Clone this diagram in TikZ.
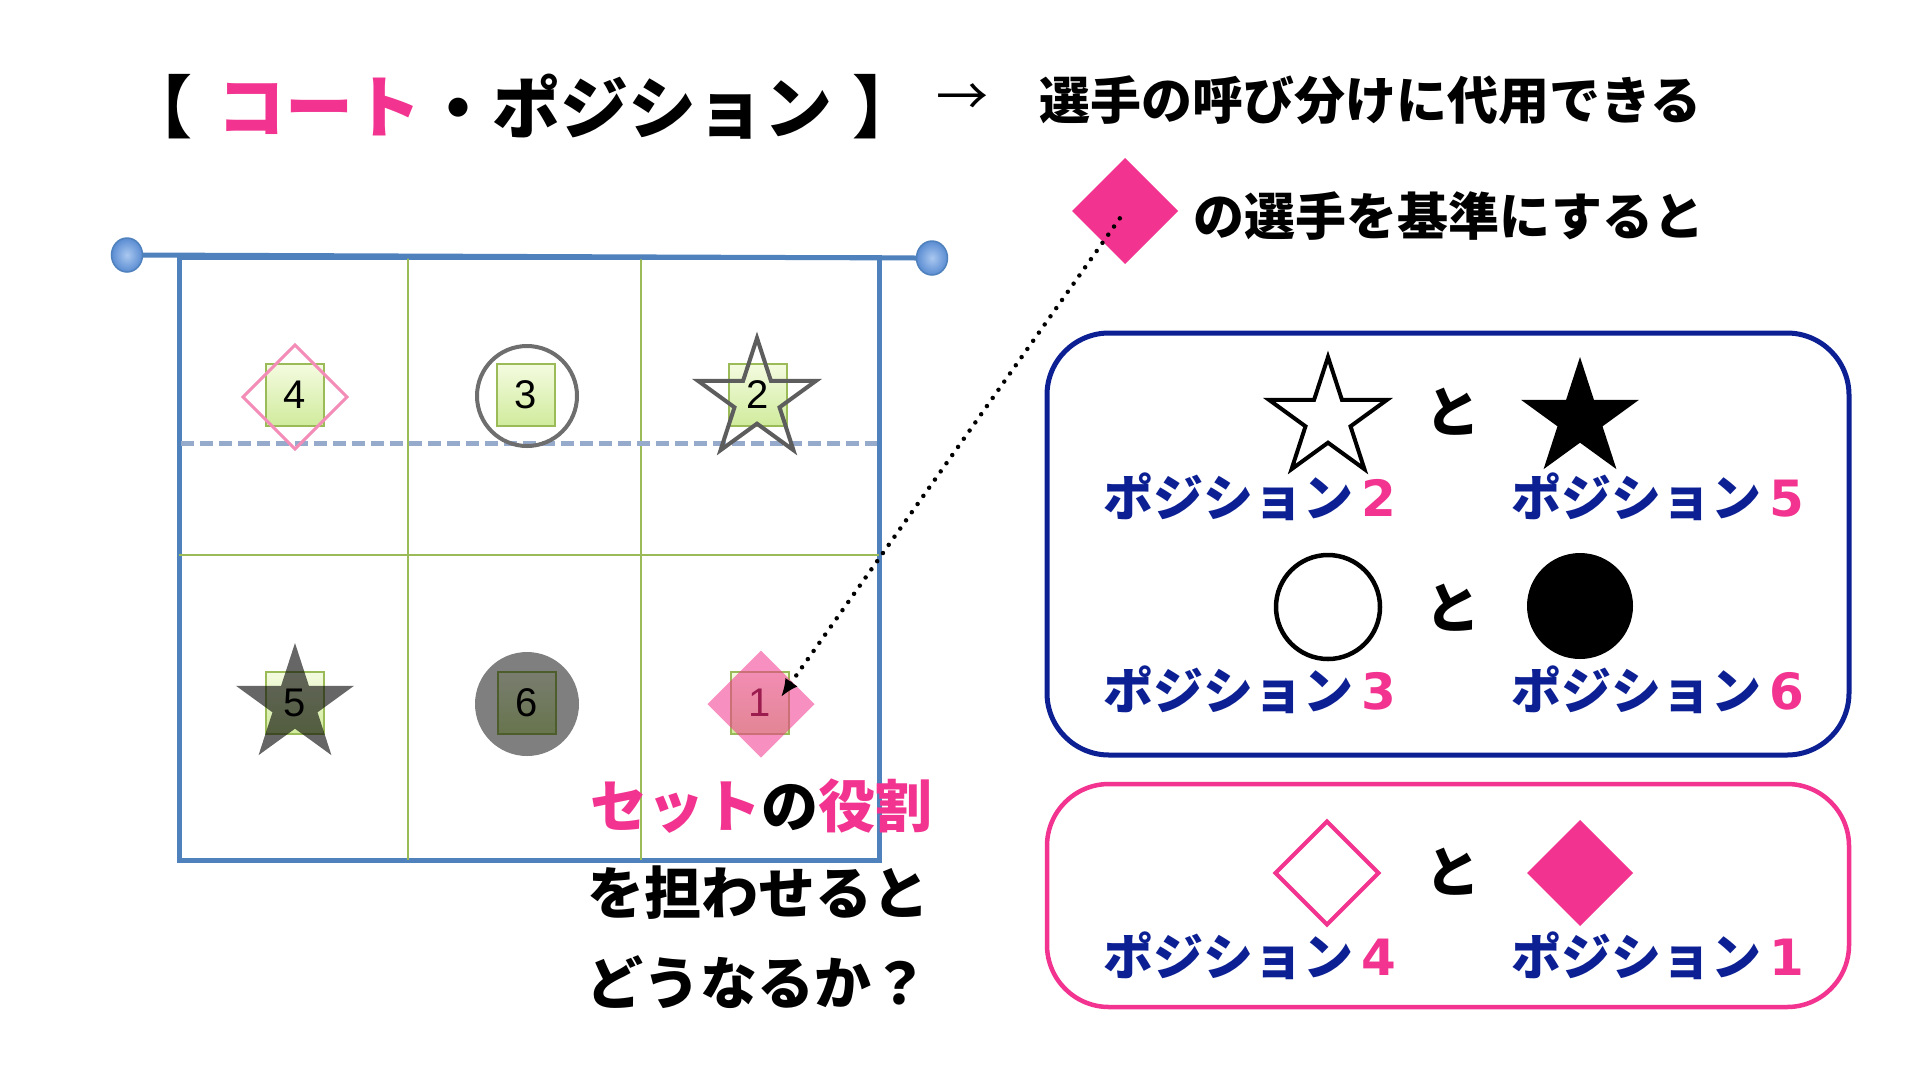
\documentclass[tikz,border=0pt]{standalone}
\usepackage{fontspec}
\newfontfamily\jp{Noto Sans CJK JP}
\newfontfamily\numfont{Liberation Sans}
\newfontfamily\dvs{DejaVu Sans}
\usetikzlibrary{shapes.geometric,arrows.meta}
\definecolor{pinkc}{RGB}{242,51,143}
\definecolor{navyc}{RGB}{12,32,148}
\definecolor{courtblue}{RGB}{79,129,189}
\definecolor{gridgreen}{RGB}{155,187,89}
\definecolor{dashblue}{RGB}{150,170,204}
\definecolor{sqtop}{RGB}{244,251,224}
\definecolor{sqbot}{RGB}{208,235,156}
\definecolor{lightpink}{RGB}{244,140,184}
\definecolor{midgray}{RGB}{110,110,110}
\definecolor{dotlight}{RGB}{170,200,240}
\definecolor{dotdark}{RGB}{90,140,210}
\newcommand{\fs}[1]{\fontsize{#1}{#1}\selectfont}
\newcommand{\poslabel}[1]{{\color{navyc}ポジション}\,{\dvs\bfseries\color{pinkc}#1}}
\begin{document}
\begin{tikzpicture}[x=1pt,y=-1pt,
  every node/.style={inner sep=0pt,outer sep=0pt},
  sq/.style={rectangle,draw=gridgreen,line width=1.5pt,top color=sqtop,bottom color=sqbot,
    minimum width=58pt,minimum height=62pt,font=\numfont\fs{40}},
  starshape/.style={star,star points=5,star point ratio=2.618,minimum size=124pt},
  diashape/.style={diamond,minimum width=#1,minimum height=#1},
  netdot/.style={ellipse,draw=courtblue,line width=1.5pt,inner color=dotlight,outer color=dotdark,
    minimum width=31pt,minimum height=34pt},
  titlefont/.style={font=\jp\bfseries\fs{#1}},
  label/.style={font=\jp\bfseries\fs{50}},
  tofont/.style={font=\jp\bfseries\fs{55}},
  roundbox/.style={draw=#1,rounded corners=62pt,minimum width=802pt},
  gridline/.style={gridgreen,line width=2pt},
  dotted arrow/.style={line width=4.5pt,line cap=round,dash pattern=on 0pt off 10pt,
    -{Latex[length=18pt,width=15pt]}}
]
\useasboundingbox[fill=white] (0,0) rectangle (1920,1080);

% ---------- title ----------
\node[titlefont=68] (brL) at (158,107) {【};
\node[titlefont=68,text=pinkc] (court1) at (319,107) {コート};
\node[titlefont=68] (pos) at (628,107) {・ポジション};
\node[titlefont=68] (brR) at (886,107) {】};
\node[font=\jp\fs{52}] (arr) at (962,100) {→};
\node[titlefont=51] (t2) at (1370,100) {選手の呼び分けに代用できる};

% ---------- second line ----------
\node[diashape=106pt,fill=pinkc] (topd) at (1125,211) {};
\node[titlefont=51] (t3) at (1449,216) {の選手を基準にすると};

% ---------- court ----------
\node[draw=courtblue,line width=5pt,minimum width=700pt,minimum height=603pt] (court) at (529,558.5) {};
\draw[gridline] (408,257) -- (408,860);
\draw[gridline] (641,257) -- (641,860);
\draw[gridline] (179,555) -- (879,555);
\draw[dashblue,line width=5pt,dash pattern=on 13pt off 6pt] (181,443) -- (877,443);
\node[netdot] (dotL) at (127,255) {};
\node[netdot] (dotR) at (932,258) {};
\draw[courtblue,line width=5pt] (dotL.east) -- (dotR.west);

% players, front row
\node[sq] (s4) at (295,395) {4};
\node[diashape=104pt,draw=lightpink,line width=3pt] (m4) at (295,397) {};
\node[sq] (s3) at (526,395) {3};
\node[circle,draw=midgray,line width=4pt,minimum size=100pt] (m3) at (527,396) {};
\node[sq] (s2) at (758,395) {2};
\node[starshape,draw=midgray!85!black,line width=4pt] (m2) at (757,400) {};
% back row
\node[sq] (s5) at (295,703) {5};
\node[starshape,fill=black,fill opacity=0.6] (m5) at (295,705) {};
\node[sq] (s6) at (527,703) {6};
\node[circle,fill=black,fill opacity=0.5,minimum size=104pt] (m6) at (527,704) {};
\node[sq,text=black!80!red] (s1) at (760,703) {1};
\node[diashape=107pt,fill=pinkc,fill opacity=0.55] (m1) at (761,704) {};

% dotted arrow
\coordinate (tip1) at (781,697);
\draw[dotted arrow,shorten <=9pt] (topd.center) -- (tip1);

% ---------- question text ----------
\node[titlefont=57] (q1) at (761,806) {{\color{pinkc}セット}の{\color{pinkc}役割}};
\node[titlefont=57] (q2) at (758,893) {を担わせると};
\node[titlefont=57] (q3) at (757,982) {どうなるか？};

% ---------- box 1 ----------
\node[roundbox=navyc,line width=5pt,minimum height=422pt] (box1) at (1448,544) {};
\node[starshape,draw=black,fill=white,line width=4pt] (ws) at (1328,419) {};
\node[tofont] (to1) at (1453,412) {と};
\node[starshape,fill=black] (bs) at (1580,419) {};
\node[label] (l2) at (1250,497) {\poslabel{2}};
\node[label] (l5) at (1658,497) {\poslabel{5}};
\node[circle,draw=black,fill=white,line width=4.5pt,minimum size=104pt] (wc) at (1328,607) {};
\node[tofont] (to2) at (1453,608) {と};
\node[circle,fill=black,minimum size=106pt] (bc) at (1580,606) {};
\node[label] (l3) at (1250,690) {\poslabel{3}};
\node[label] (l6) at (1658,690) {\poslabel{6}};

% ---------- box 2 ----------
\node[roundbox=pinkc,line width=4.5pt,minimum height=223pt] (box2) at (1448,895.5) {};
\node[diashape=103pt,draw=pinkc,fill=white,line width=4pt] (wd) at (1327,873) {};
\node[tofont] (to3) at (1453,872) {と};
\node[diashape=106pt,fill=pinkc] (bd) at (1580,873) {};
\node[label] (l4) at (1250,956) {\poslabel{4}};
\node[label] (l1) at (1658,956) {\poslabel{1}};
\end{tikzpicture}
\end{document}
